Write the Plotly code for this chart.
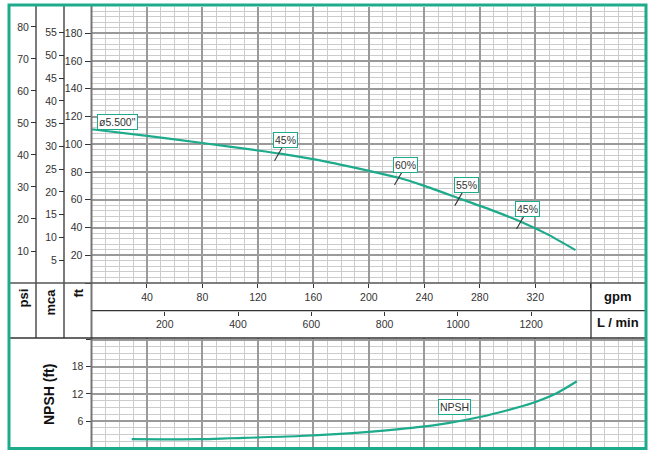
import numpy as np
import plotly.graph_objects as go

W, H = 656, 456

# ---------------- data ----------------
flow_gpm = [0, 40, 80, 120, 136, 170, 208, 221, 240, 265, 290, 310, 330, 349]
head_ft = [110.8, 106.0, 100.9, 95.5, 93.2, 87.3, 79.0, 76.0, 70.0, 61.0, 52.0, 44.0, 34.5, 23.7]

eff_gpm = [135, 221.5, 265, 309.5]
eff_labels = ["45%", "60%", "55%", "45%"]

npsh_gpm = [29, 50, 78, 100, 150, 200, 222, 250, 280, 300, 318, 335, 350]
npsh_ft = [2.0, 1.95, 2.0, 2.2, 2.7, 3.6, 4.2, 5.2, 6.9, 8.4, 10.0, 12.1, 14.8]

impeller_label = 'ø5.500"'
npsh_label = "NPSH"
npsh_label_gpm = 262

lpm_ticks = [200, 400, 600, 800, 1000, 1200]
psi_ticks = [10, 20, 30, 40, 50, 60, 70, 80]
mca_ticks = [5, 10, 15, 20, 25, 30, 35, 40, 45, 50, 55]

FT_PER_PSI = 2.30666
M_PER_FT = 0.3048
LPM_PER_GPM = 3.78541

# ---------------- styles ----------------
TEAL = "#1dab8c"
DARK = "#333333"
MAJ = "#9a9a9a"
MIN = "#cccccc"
FONT = "Liberation Sans, Arial, sans-serif"

def px(v):
    return v / W

def py(v):
    return 1 - v / H

X0, X1 = 91.5, 645.0
XMAX = (X1 - X0) / 1.3868
HEAD_TOP, HEAD_BOT = 7.0, 283.0
FTMAX = (HEAD_BOT - HEAD_TOP) / 1.3875
NP_TOP, NP_BOT = 338.0, 448.2
NPMAX = (NP_BOT - NP_TOP) / 4.525

fig = go.Figure()

# head curve
fig.add_trace(go.Scatter(x=flow_gpm, y=head_ft, mode="lines",
                         line=dict(color=TEAL, width=2.2, shape="spline", smoothing=0.6),
                         xaxis="x", yaxis="y", hoverinfo="skip", showlegend=False))
# efficiency ticks
eff_head = np.interp(eff_gpm, flow_gpm, head_ft)
fig.add_trace(go.Scatter(x=eff_gpm, y=eff_head, mode="markers",
                         marker=dict(symbol="line-ns", size=12, angle=30,
                                     line=dict(color=DARK, width=1.1)),
                         xaxis="x", yaxis="y", hoverinfo="skip", showlegend=False))
# invisible traces to carry the secondary unit axes
h = np.array(head_ft)
f = np.array(flow_gpm)
fig.add_trace(go.Scatter(x=f, y=h / FT_PER_PSI, mode="lines", line=dict(width=0), opacity=0,
                         xaxis="x", yaxis="y3", hoverinfo="skip", showlegend=False))
fig.add_trace(go.Scatter(x=f, y=h * M_PER_FT, mode="lines", line=dict(width=0), opacity=0,
                         xaxis="x", yaxis="y4", hoverinfo="skip", showlegend=False))
fig.add_trace(go.Scatter(x=f * LPM_PER_GPM, y=h, mode="lines", line=dict(width=0), opacity=0,
                         xaxis="x3", yaxis="y", hoverinfo="skip", showlegend=False))
# NPSH curve
fig.add_trace(go.Scatter(x=npsh_gpm, y=npsh_ft, mode="lines",
                         line=dict(color=TEAL, width=2.2, shape="spline", smoothing=0.8),
                         xaxis="x2", yaxis="y2", hoverinfo="skip", showlegend=False))

tickfont = dict(family=FONT, size=10.5, color=DARK)

grid_x = dict(range=[0, XMAX], domain=[px(X0), px(X1)], tick0=0, dtick=40,
              showgrid=True, gridcolor=MAJ, gridwidth=1.6, zeroline=False, showline=False,
              minor=dict(tick0=0, dtick=10, showgrid=True, gridcolor=MIN, gridwidth=1, ticks=""),
              fixedrange=True)

fig.update_layout(
    width=W, height=H, margin=dict(l=0, r=0, t=0, b=0),
    paper_bgcolor="white", plot_bgcolor="white", showlegend=False,
    font=dict(family=FONT, color=DARK),
    xaxis=dict(**grid_x, anchor="y", ticks="outside", ticklen=4, tickwidth=1, tickcolor=DARK,
               tickfont=tickfont, labelalias={"0": "", "360": ""}),
    xaxis2=dict(**grid_x, anchor="y2", showticklabels=False, ticks="", matches="x"),
    xaxis3=dict(range=[0, XMAX * LPM_PER_GPM], overlaying="x", anchor="free",
                position=py(310.7), side="bottom", tickmode="array", tickvals=lpm_ticks,
                ticks="outside", ticklen=4, tickwidth=1, tickcolor=DARK, tickfont=tickfont,
                showgrid=False, zeroline=False, showline=False, fixedrange=True),
    yaxis=dict(range=[0, FTMAX], domain=[py(HEAD_BOT), py(HEAD_TOP)], anchor="x",
               tick0=0, dtick=20, ticks="outside", ticklen=6, tickwidth=1, tickcolor=DARK,
               tickfont=tickfont, labelalias={"0": ""},
               showgrid=True, gridcolor=MAJ, gridwidth=1.6, zeroline=False, showline=False,
               minor=dict(tick0=0, dtick=4, showgrid=True, gridcolor=MIN, gridwidth=1, ticks=""),
               fixedrange=True),
    yaxis3=dict(range=[0, FTMAX / FT_PER_PSI], overlaying="y", anchor="free", position=px(36),
                side="left", tickmode="array", tickvals=psi_ticks, ticks="outside", ticklen=5,
                tickwidth=1, tickcolor=DARK, tickfont=tickfont,
                showgrid=False, zeroline=False, showline=False, fixedrange=True),
    yaxis4=dict(range=[0, FTMAX * M_PER_FT], overlaying="y", anchor="free", position=px(64),
                side="left", tickmode="array", tickvals=mca_ticks, ticks="outside", ticklen=5,
                tickwidth=1, tickcolor=DARK, tickfont=tickfont,
                showgrid=False, zeroline=False, showline=False, fixedrange=True),
    yaxis2=dict(range=[0, NPMAX], domain=[py(NP_BOT), py(NP_TOP)], anchor="x2",
                tick0=0, dtick=6, ticks="outside", ticklen=5, tickwidth=1, tickcolor=DARK,
                tickfont=tickfont, labelalias={"0": "", "24": ""},
                showgrid=True, gridcolor=MAJ, gridwidth=1.6, zeroline=False, showline=False,
                minor=dict(tick0=0, dtick=1.5, showgrid=True, gridcolor=MIN, gridwidth=1, ticks=""),
                fixedrange=True),
)

# ---------------- frame lines ----------------
shapes = []
def pline(x0, y0, x1, y1, color=DARK, width=1.3):
    shapes.append(dict(type="line", xref="paper", yref="paper",
                       x0=px(x0), y0=py(y0), x1=px(x1), y1=py(y1),
                       line=dict(color=color, width=width), layer="above"))

pline(36, 5, 36, 338)
pline(64, 5, 64, 338)
pline(X0, 5, X0, 449, color="#777777", width=2)
pline(9, HEAD_BOT, 646, HEAD_BOT, color="#555555", width=1.6)
pline(X0, 310.7, 646, 310.7)
pline(9, NP_TOP, 646, NP_TOP, color="#333333", width=1.6)
pline(591, HEAD_BOT, 591, NP_TOP)
shapes.append(dict(type="rect", xref="paper", yref="paper",
                   x0=px(9), y0=py(448.5), x1=px(646), y1=py(5),
                   line=dict(color=TEAL, width=3), layer="above"))
fig.update_layout(shapes=shapes)

# ---------------- annotations ----------------
ann = []
boxfont = dict(family=FONT, size=10.5, color=DARK)
for g, hh, t in zip(eff_gpm, eff_head, eff_labels):
    ann.append(dict(x=g, y=hh, xref="x", yref="y", text=t, showarrow=False,
                    xanchor="center", yanchor="middle",
                    xshift=7, yshift=13, font=boxfont, bgcolor="white",
                    bordercolor=TEAL, borderwidth=1, borderpad=1))
ann.append(dict(x=flow_gpm[0], y=head_ft[0], xref="x", yref="y", text=impeller_label,
                showarrow=False, xanchor="left", yanchor="middle", xshift=5, yshift=7,
                font=boxfont, bgcolor="white", bordercolor=TEAL, borderwidth=1, borderpad=1))
ann.append(dict(x=npsh_label_gpm, y=float(np.interp(npsh_label_gpm, npsh_gpm, npsh_ft)),
                xref="x2", yref="y2", text=npsh_label, showarrow=False, yshift=15,
                xanchor="center", yanchor="middle",
                font=boxfont, bgcolor="white", bordercolor=TEAL, borderwidth=1, borderpad=1))

bold = dict(family=FONT, size=13, color="#111111")
for xc, t in [(23, "psi"), (50, "mca"), (78, "ft")]:
    ann.append(dict(x=px(xc), y=py(287), xref="paper", yref="paper", text="<b>%s</b>" % t,
                    textangle=-90, showarrow=False, xanchor="center", yanchor="top", font=bold))
ann.append(dict(x=px(617), y=py(296), xref="paper", yref="paper", text="<b>gpm</b>",
                showarrow=False, xanchor="center", yanchor="middle", font=bold))
ann.append(dict(x=px(618), y=py(322.5), xref="paper", yref="paper", text="<b>L / min</b>",
                showarrow=False, xanchor="center", yanchor="middle", font=bold))
ann.append(dict(x=px(49), y=py(395), xref="paper", yref="paper", text="<b>NPSH (ft)</b>",
                textangle=-90, showarrow=False, xanchor="center", yanchor="middle",
                font=dict(family=FONT, size=14, color="#111111")))
fig.update_layout(annotations=ann)

fig.write_html("out.html", config={"displayModeBar": False},
               post_script="document.body.style.margin='0px';document.body.style.overflow='hidden';")
